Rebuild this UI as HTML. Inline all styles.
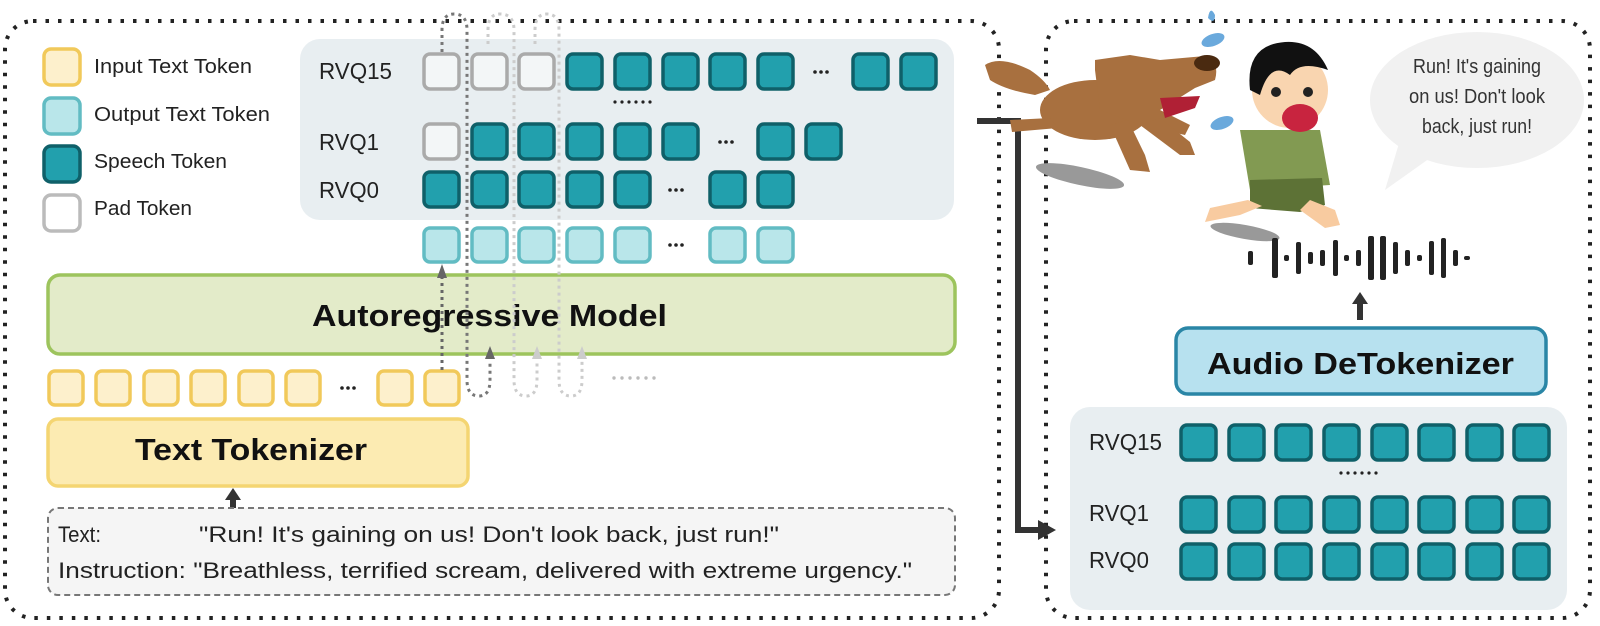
<!DOCTYPE html>
<html><head><meta charset="utf-8"><style>
html,body{margin:0;padding:0;background:#fff;}
svg{display:block;}
text{font-family:"Liberation Sans",sans-serif;}
</style></head><body>
<svg width="1600" height="626" viewBox="0 0 1600 626" xmlns="http://www.w3.org/2000/svg">
<!-- panels -->
<rect x="5" y="21" width="994" height="597" rx="28" fill="none" stroke="#222" stroke-width="4" stroke-dasharray="3.5 9"/>
<rect x="1046" y="21" width="544" height="597" rx="28" fill="none" stroke="#222" stroke-width="4" stroke-dasharray="3.5 9"/>

<!-- legend -->
<g stroke-width="3.5">
<rect x="44" y="49" width="36" height="36" rx="7" fill="#fdf0cc" stroke="#f1c95a"/>
<rect x="44" y="98" width="36" height="36" rx="7" fill="#b9e6ea" stroke="#62bcc3"/>
<rect x="44" y="146" width="36" height="36" rx="7" fill="#22a0ad" stroke="#0f6069"/>
<rect x="44" y="195" width="36" height="36" rx="7" fill="#fff" stroke="#bbb"/>
</g>
<g font-size="20" fill="#222">
<text x="94" y="73" textLength="158" lengthAdjust="spacingAndGlyphs">Input Text Token</text>
<text x="94" y="121" textLength="176" lengthAdjust="spacingAndGlyphs">Output Text Token</text>
<text x="94" y="168" textLength="133" lengthAdjust="spacingAndGlyphs">Speech Token</text>
<text x="94" y="215" textLength="98" lengthAdjust="spacingAndGlyphs">Pad Token</text>
</g>

<!-- grey panel left -->
<rect x="300" y="39" width="654" height="181" rx="20" fill="#e8eef1"/>
<g font-size="23" fill="#222">
<text x="319" y="79" textLength="73" lengthAdjust="spacingAndGlyphs">RVQ15</text>
<text x="319" y="150" textLength="60" lengthAdjust="spacingAndGlyphs">RVQ1</text>
<text x="319" y="198" textLength="60" lengthAdjust="spacingAndGlyphs">RVQ0</text>
</g>
<g stroke-width="3.5">
<rect x="424" y="54" width="35" height="35" rx="6" fill="#f3f6f7" stroke="#aaa"/>
<rect x="472" y="54" width="35" height="35" rx="6" fill="#f3f6f7" stroke="#aaa"/>
<rect x="519" y="54" width="35" height="35" rx="6" fill="#f3f6f7" stroke="#aaa"/>
<g fill="#22a0ad" stroke="#0f6069">
<rect x="567" y="54" width="35" height="35" rx="6"/>
<rect x="615" y="54" width="35" height="35" rx="6"/>
<rect x="663" y="54" width="35" height="35" rx="6"/>
<rect x="710" y="54" width="35" height="35" rx="6"/>
<rect x="758" y="54" width="35" height="35" rx="6"/>
<rect x="853" y="54" width="35" height="35" rx="6"/>
<rect x="901" y="54" width="35" height="35" rx="6"/>
<rect x="472" y="124" width="35" height="35" rx="6"/>
<rect x="519" y="124" width="35" height="35" rx="6"/>
<rect x="567" y="124" width="35" height="35" rx="6"/>
<rect x="615" y="124" width="35" height="35" rx="6"/>
<rect x="663" y="124" width="35" height="35" rx="6"/>
<rect x="758" y="124" width="35" height="35" rx="6"/>
<rect x="806" y="124" width="35" height="35" rx="6"/>
<rect x="424" y="172" width="35" height="35" rx="6"/>
<rect x="472" y="172" width="35" height="35" rx="6"/>
<rect x="519" y="172" width="35" height="35" rx="6"/>
<rect x="567" y="172" width="35" height="35" rx="6"/>
<rect x="615" y="172" width="35" height="35" rx="6"/>
<rect x="710" y="172" width="35" height="35" rx="6"/>
<rect x="758" y="172" width="35" height="35" rx="6"/>
</g>
<rect x="424" y="124" width="35" height="35" rx="6" fill="#f3f6f7" stroke="#aaa"/>
<g fill="#b9e6ea" stroke="#62bcc3">
<rect x="424" y="228" width="35" height="34" rx="6"/>
<rect x="472" y="228" width="35" height="34" rx="6"/>
<rect x="519" y="228" width="35" height="34" rx="6"/>
<rect x="567" y="228" width="35" height="34" rx="6"/>
<rect x="615" y="228" width="35" height="34" rx="6"/>
<rect x="710" y="228" width="35" height="34" rx="6"/>
<rect x="758" y="228" width="35" height="34" rx="6"/>
</g>
</g>
<g fill="#222">
<circle cx="815" cy="72" r="1.8"/><circle cx="821" cy="72" r="1.8"/><circle cx="827" cy="72" r="1.8"/>
<circle cx="720" cy="142" r="1.8"/><circle cx="726" cy="142" r="1.8"/><circle cx="732" cy="142" r="1.8"/>
<circle cx="670" cy="190" r="1.8"/><circle cx="676" cy="190" r="1.8"/><circle cx="682" cy="190" r="1.8"/>
<circle cx="670" cy="245" r="1.8"/><circle cx="676" cy="245" r="1.8"/><circle cx="682" cy="245" r="1.8"/>
<circle cx="615" cy="102" r="1.6"/><circle cx="622" cy="102" r="1.6"/><circle cx="629" cy="102" r="1.6"/><circle cx="636" cy="102" r="1.6"/><circle cx="643" cy="102" r="1.6"/><circle cx="650" cy="102" r="1.6"/>
</g>

<!-- autoregressive model -->
<rect x="48" y="275" width="907" height="79" rx="12" fill="#e3ebc9" stroke="#9dc45d" stroke-width="3.5"/>
<text x="312" y="326" font-size="31" font-weight="bold" fill="#111" textLength="355" lengthAdjust="spacingAndGlyphs">Autoregressive Model</text>

<!-- input tokens -->
<g fill="#fdf0cc" stroke="#f1c95a" stroke-width="3.5">
<rect x="49" y="371" width="34" height="34" rx="6"/>
<rect x="96" y="371" width="34" height="34" rx="6"/>
<rect x="144" y="371" width="34" height="34" rx="6"/>
<rect x="191" y="371" width="34" height="34" rx="6"/>
<rect x="239" y="371" width="34" height="34" rx="6"/>
<rect x="286" y="371" width="34" height="34" rx="6"/>
<rect x="378" y="371" width="34" height="34" rx="6"/>
<rect x="425" y="371" width="34" height="34" rx="6"/>
</g>
<g fill="#222"><circle cx="342" cy="388" r="1.8"/><circle cx="348" cy="388" r="1.8"/><circle cx="354" cy="388" r="1.8"/></g>
<g fill="#bbb"><circle cx="614" cy="378" r="1.7"/><circle cx="622" cy="378" r="1.7"/><circle cx="630" cy="378" r="1.7"/><circle cx="638" cy="378" r="1.7"/><circle cx="646" cy="378" r="1.7"/><circle cx="654" cy="378" r="1.7"/></g>

<!-- dotted flows -->
<path d="M442 52 L442 30 Q442 14 454 14 Q467 14 467 30 L467 380 Q467 396 479 396 Q490 396 490 380 L490 360" fill="none" stroke="#777" stroke-width="3" stroke-dasharray="3 4"/>
<path d="M488 44 L488 30 Q488 14 500 14 Q514 14 514 30 L514 380 Q514 396 526 396 Q537 396 537 380 L537 360" fill="none" stroke="#ccc" stroke-width="3" stroke-dasharray="3 4"/>
<path d="M535 44 L535 30 Q535 14 547 14 Q559 14 559 30 L559 380 Q559 396 571 396 Q582 396 582 380 L582 360" fill="none" stroke="#ccc" stroke-width="3" stroke-dasharray="3 4"/>
<polygon points="490,346 485,359 495,359" fill="#666"/>
<polygon points="537,346 532,359 542,359" fill="#ccc"/>
<polygon points="582,346 577,359 587,359" fill="#ccc"/>
<line x1="442" y1="370" x2="442" y2="276" stroke="#666" stroke-width="3" stroke-dasharray="3 4"/>
<polygon points="442,264 437,278 447,278" fill="#666"/>

<!-- text tokenizer -->
<rect x="48" y="419" width="420" height="67" rx="10" fill="#fcebb2" stroke="#f4d572" stroke-width="3.5"/>
<text x="135" y="452" font-size="31" font-weight="bold" fill="#111" textLength="232" lengthAdjust="spacingAndGlyphs" dominant-baseline="middle">Text Tokenizer</text>
<rect x="230" y="498" width="6" height="20" fill="#333"/>
<polygon points="233,488 225,500 241,500" fill="#333"/>

<!-- text box -->
<rect x="48" y="508" width="907" height="87" rx="10" fill="#f5f5f5" stroke="#777" stroke-width="2" stroke-dasharray="6 4"/>
<g font-size="22" fill="#222">
<text x="58" y="542" textLength="43" lengthAdjust="spacingAndGlyphs">Text:</text>
<text x="199" y="542" textLength="580" lengthAdjust="spacingAndGlyphs">"Run! It's gaining on us! Don't look back, just run!"</text>
<text x="58" y="578" textLength="854" lengthAdjust="spacingAndGlyphs">Instruction: "Breathless, terrified scream, delivered with extreme urgency."</text>
</g>

<!-- connector -->
<path d="M977 121 L1018 121 L1018 530 L1042 530" fill="none" stroke="#333" stroke-width="6"/>
<polygon points="1056,530 1038,520 1038,540" fill="#333"/>

<!-- illustration: dog -->
<ellipse cx="1080" cy="176" rx="45" ry="9" fill="#999" transform="rotate(12 1080 176)"/>
<ellipse cx="1245" cy="232" rx="35" ry="7" fill="#999" transform="rotate(10 1245 232)"/>
<path d="M985 65 Q1000 55 1030 70 Q1045 80 1050 90 L1035 95 Q1005 90 990 80 Z" fill="#a8703f"/>
<ellipse cx="1095" cy="110" rx="55" ry="30" fill="#a8703f"/>
<path d="M1095 70 L1095 60 L1130 55 L1160 60 L1205 56 Q1220 62 1215 80 L1195 88 L1160 110 L1190 125 L1185 135 L1140 125 L1100 110 Z" fill="#a8703f"/>
<path d="M1160 98 L1200 96 L1195 108 L1165 118 Z" fill="#b02035"/>
<ellipse cx="1207" cy="63" rx="13" ry="8" fill="#4a2a10"/>
<path d="M1010 120 L1050 118 L1058 128 L1012 132 Z" fill="#a8703f"/>
<path d="M1110 125 L1130 170 L1150 172 L1145 155 L1128 120 Z" fill="#a8703f"/>
<path d="M1140 125 L1180 155 L1195 155 L1190 142 L1160 118 Z" fill="#a8703f"/>
<!-- boy -->
<path d="M1208 18 Q1210 5 1215 15 Q1215 25 1208 18 Z" fill="#6aa9dc"/>
<ellipse cx="1213" cy="40" rx="12" ry="6" fill="#6aa9dc" transform="rotate(-20 1213 40)"/>
<ellipse cx="1222" cy="123" rx="12" ry="6" fill="#6aa9dc" transform="rotate(-20 1222 123)"/>
<path d="M1240 130 L1320 130 L1330 185 L1250 190 Z" fill="#829a52"/>
<path d="M1250 180 L1322 178 L1325 205 L1300 212 L1250 208 Z" fill="#5d7236"/>
<path d="M1248 200 L1210 208 L1205 222 L1240 215 L1262 206 Z" fill="#f8cba0"/>
<path d="M1310 200 L1335 210 L1340 225 L1325 228 L1300 210 Z" fill="#f8cba0"/>
<circle cx="1290" cy="90" r="38" fill="#f9d5b0"/>
<path d="M1250 90 Q1245 45 1285 42 Q1315 40 1328 70 Q1300 60 1290 75 Q1270 60 1260 95 Z" fill="#111"/>
<ellipse cx="1300" cy="118" rx="18" ry="14" fill="#c8243f"/>
<circle cx="1276" cy="92" r="5" fill="#222"/><circle cx="1308" cy="92" r="5" fill="#222"/>
<!-- bubble -->
<ellipse cx="1477" cy="100" rx="107" ry="68" fill="#f1f1f1"/>
<path d="M1400 140 L1385 190 L1430 158 Z" fill="#f1f1f1"/>
<g font-size="20" fill="#333" text-anchor="middle">
<text x="1477" y="73" textLength="128" lengthAdjust="spacingAndGlyphs">Run! It's gaining</text>
<text x="1477" y="103" textLength="136" lengthAdjust="spacingAndGlyphs">on us! Don't look</text>
<text x="1477" y="133" textLength="110" lengthAdjust="spacingAndGlyphs">back, just run!</text>
</g>
<!-- waveform -->
<g fill="#222">
<rect x="1248" y="251" width="5" height="14" rx="2"/>
<rect x="1272" y="238" width="6" height="40" rx="2"/>
<rect x="1284" y="255" width="5" height="6" rx="2"/>
<rect x="1296" y="242" width="5" height="32" rx="2"/>
<rect x="1308" y="252" width="5" height="12" rx="2"/>
<rect x="1320" y="250" width="5" height="16" rx="2"/>
<rect x="1333" y="240" width="5" height="36" rx="2"/>
<rect x="1344" y="255" width="5" height="6" rx="2"/>
<rect x="1356" y="250" width="5" height="16" rx="2"/>
<rect x="1368" y="236" width="6" height="44" rx="2"/>
<rect x="1380" y="236" width="6" height="44" rx="2"/>
<rect x="1393" y="242" width="5" height="32" rx="2"/>
<rect x="1405" y="250" width="5" height="16" rx="2"/>
<rect x="1417" y="255" width="5" height="6" rx="2"/>
<rect x="1429" y="241" width="5" height="34" rx="2"/>
<rect x="1441" y="238" width="5" height="40" rx="2"/>
<rect x="1453" y="250" width="5" height="16" rx="2"/>
<rect x="1464" y="256" width="6" height="4" rx="2"/>
</g>
<rect x="1357" y="300" width="6" height="20" fill="#333"/>
<polygon points="1360,292 1352,304 1368,304" fill="#333"/>

<!-- audio detokenizer -->
<rect x="1176" y="328" width="370" height="66" rx="12" fill="#b7e1ef" stroke="#2a86a6" stroke-width="3.5"/>
<text x="1207" y="374" font-size="31" font-weight="bold" fill="#111" textLength="307" lengthAdjust="spacingAndGlyphs">Audio DeTokenizer</text>

<!-- right grey panel -->
<rect x="1070" y="407" width="497" height="203" rx="20" fill="#e8eef1"/>
<g font-size="23" fill="#222">
<text x="1089" y="450" textLength="73" lengthAdjust="spacingAndGlyphs">RVQ15</text>
<text x="1089" y="521" textLength="60" lengthAdjust="spacingAndGlyphs">RVQ1</text>
<text x="1089" y="568" textLength="60" lengthAdjust="spacingAndGlyphs">RVQ0</text>
</g>
<g fill="#22a0ad" stroke="#0f6069" stroke-width="3.5">
<g id="r15">
<rect x="1181" y="425" width="35" height="35" rx="6"/>
<rect x="1229" y="425" width="35" height="35" rx="6"/>
<rect x="1276" y="425" width="35" height="35" rx="6"/>
<rect x="1324" y="425" width="35" height="35" rx="6"/>
<rect x="1372" y="425" width="35" height="35" rx="6"/>
<rect x="1419" y="425" width="35" height="35" rx="6"/>
<rect x="1467" y="425" width="35" height="35" rx="6"/>
<rect x="1514" y="425" width="35" height="35" rx="6"/>
</g>
<use href="#r15" y="72"/>
<use href="#r15" y="119"/>
</g>
<g fill="#222"><circle cx="1341" cy="473" r="1.6"/><circle cx="1348" cy="473" r="1.6"/><circle cx="1355" cy="473" r="1.6"/><circle cx="1362" cy="473" r="1.6"/><circle cx="1369" cy="473" r="1.6"/><circle cx="1376" cy="473" r="1.6"/></g>
</svg>
</body></html>
